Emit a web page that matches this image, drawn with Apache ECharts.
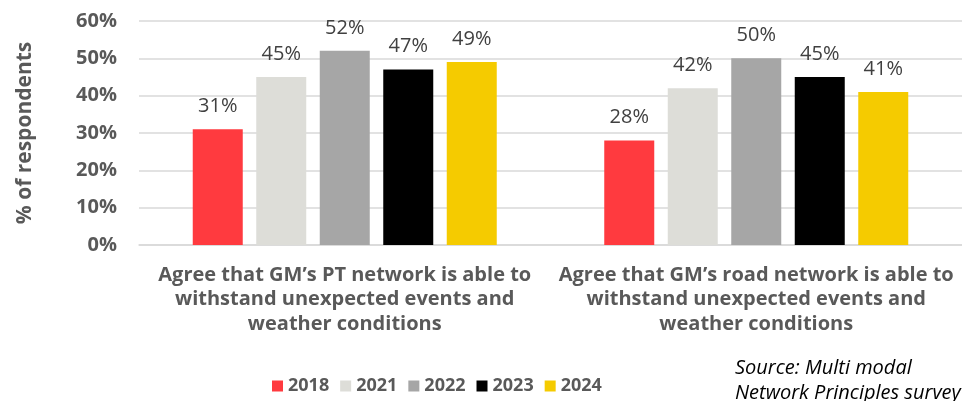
<!DOCTYPE html>
<html>
<head>
<meta charset="utf-8">
<script src="https://cdn.jsdelivr.net/npm/echarts@6/dist/echarts.min.js"></script>
<style>
  html, body { margin: 0; padding: 0; background: #fff; }
  #chart { width: 962px; height: 401px; }
</style>
</head>
<body>
<div id="chart"></div>
<script>
// Survey statements (category axis)
const categories = [
  "Agree that GM\u2019s PT network is able to\nwithstand unexpected events and\nweather conditions",
  "Agree that GM\u2019s road network is able to\nwithstand unexpected events and\nweather conditions"
];
// Survey years and share of respondents agreeing (%)
const years = ["2018", "2021", "2022", "2023", "2024"];
const values2018 = [31, 28];
const values2021 = [45, 42];
const values2022 = [52, 50];
const values2023 = [47, 45];
const values2024 = [49, 41];
const yTicks = [0, 10, 20, 30, 40, 50, 60];

const seriesValues = [values2018, values2021, values2022, values2023, values2024];
const colors = ["#FF3A3F", "#DDDDD8", "#A6A6A6", "#000000", "#F5CB00"];

const FONT = "'Open Sans', 'Liberation Sans', sans-serif";
const chart = echarts.init(document.getElementById("chart"));

chart.setOption({
  animation: false,
  grid: { left: 139, right: 0, top: 21, bottom: 156 },
  legend: {
    left: 272, bottom: 6, padding: 0,
    itemWidth: 11, itemHeight: 11, itemGap: 11,
    icon: "rect",
    textStyle: { color: "#595959", fontSize: 18, fontWeight: "bold", fontFamily: FONT },
    data: years
  },
  xAxis: {
    type: "category",
    data: categories,
    axisTick: { show: false },
    axisLine: { lineStyle: { color: "#D9D9D9", width: 1.5 } },
    axisLabel: {
      interval: 0, margin: 18, lineHeight: 24.5,
      color: "#595959", fontSize: 20, fontWeight: "bold", fontFamily: FONT
    }
  },
  yAxis: {
    type: "value",
    min: yTicks[0], max: yTicks[yTicks.length - 1], interval: 10,
    name: "% of respondents",
    nameLocation: "middle", nameRotate: 90, nameGap: 103,
    nameTextStyle: { color: "#595959", fontSize: 21, fontWeight: "bold", fontFamily: FONT },
    axisLabel: {
      margin: 22, formatter: "{value}%",
      color: "#595959", fontSize: 20, fontWeight: "bold", fontFamily: FONT
    },
    splitLine: { lineStyle: { color: "#D9D9D9", width: 1.5 } }
  },
  series: years.map((y, i) => ({
    name: y,
    type: "bar",
    data: seriesValues[i],
    barWidth: 50,
    barGap: "27%",
    itemStyle: { color: colors[i] },
    label: {
      show: true, position: "top", distance: 13,
      formatter: "{c}%",
      color: "#404040", fontSize: 20, fontFamily: FONT
    }
  })),
  graphic: [
    {
      type: "text", left: 735, top: 356,
      style: {
        text: "Source: Multi modal\nNetwork Principles survey",
        font: "italic 20px " + FONT, fill: "#000", lineHeight: 25
      }
    }
  ]
});
</script>
</body>
</html>
